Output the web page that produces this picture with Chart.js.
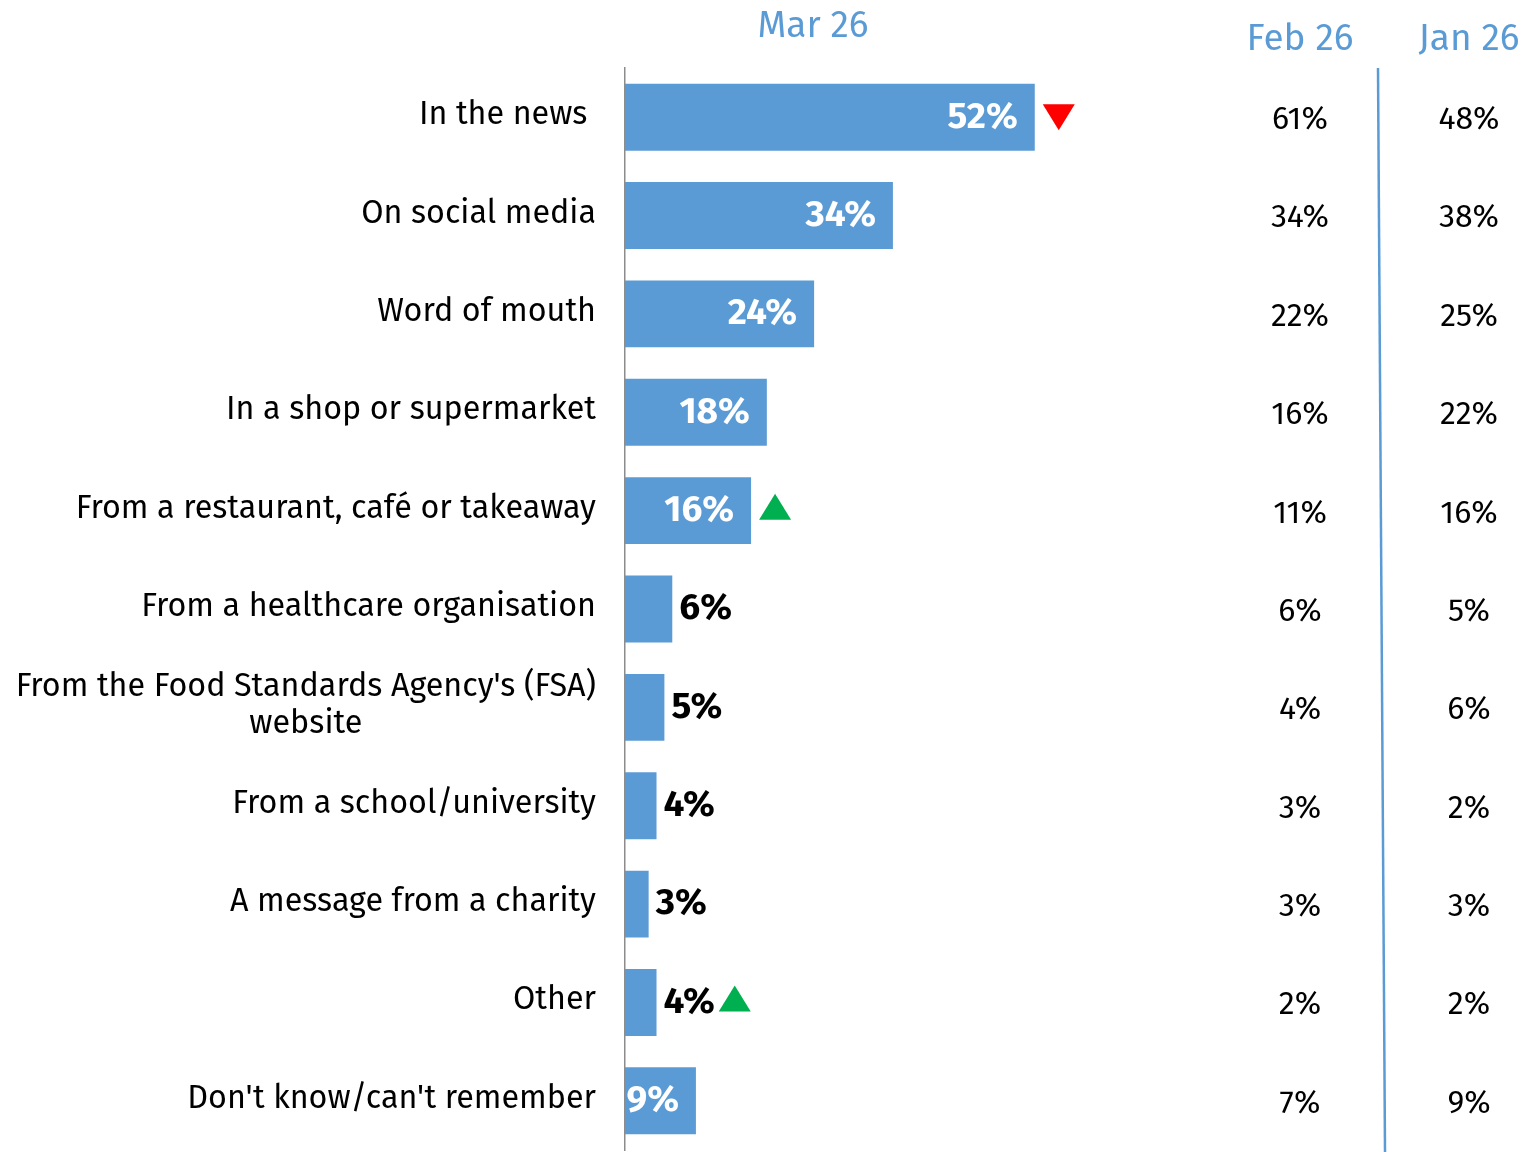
<!DOCTYPE html>
<html>
<head>
<meta charset="utf-8">
<script src="https://cdn.jsdelivr.net/npm/chart.js@4/dist/chart.umd.min.js"></script>
<style>
  html, body { margin: 0; padding: 0; background: #ffffff; }
  #wrap { width: 1524px; height: 1152px; position: relative; }
</style>
</head>
<body>
<div id="wrap"><canvas id="chart" width="1524" height="1152"></canvas></div>
<script>
// Where people heard about it – current wave with two earlier waves for comparison
const categories = [
  ['In the news '],
  ['On social media'],
  ['Word of mouth'],
  ['In a shop or supermarket'],
  ['From a restaurant, café or takeaway'],
  ['From a healthcare organisation'],
  ["From the Food Standards Agency's (FSA)", 'website'],
  ['From a school/university'],
  ['A message from a charity'],
  ['Other'],
  ["Don't know/can't remember"]
];
const mar26 = [52, 34, 24, 18, 16, 6, 5, 4, 3, 4, 9];
const feb26 = [61, 34, 22, 16, 11, 6, 4, 3, 3, 2, 7];
const jan26 = [48, 38, 25, 22, 16, 5, 6, 2, 3, 2, 9];
// significant change vs previous wave: 'down', 'up' or null
const changes = ['down', null, null, null, 'up', null, null, null, null, 'up', null];
const waveHeaders = ['Mar 26', 'Feb 26', 'Jan 26'];

const FONT = '"Fira Sans", "Open Sans", sans-serif';
const BLUE = '#5B9BD5';
const HEAD_BLUE = '#5B9BD5';

const overlay = {
  id: 'overlay',
  afterDatasetsDraw(chart) {
    const ctx = chart.ctx;
    const y = chart.scales.y;
    const area = chart.chartArea;
    ctx.save();

    // category labels, right-aligned; multi-line labels are centred on their block
    ctx.fillStyle = '#000000';
    ctx.font = '32.3px ' + FONT;
    ctx.textBaseline = 'middle';
    const labelRight = area.left - 29;
    categories.forEach((lines, i) => {
      const cy = y.getPixelForValue(i) - 2;
      if (lines.length === 1) {
        ctx.textAlign = 'right';
        ctx.fillText(lines[0], labelRight, cy);
      } else {
        const w = Math.max(...lines.map(l => ctx.measureText(l).width));
        const mid = labelRight - w / 2;
        const lh = 37;
        ctx.textAlign = 'center';
        lines.forEach((l, k) => {
          ctx.fillText(l, mid, cy + (k - (lines.length - 1) / 2) * lh);
        });
      }
    });

    // value labels on the bars
    ctx.font = 'bold 37px ' + FONT;
    const meta = chart.getDatasetMeta(0);
    mar26.forEach((v, i) => {
      const bar = meta.data[i];
      const cy = bar.y;
      const text = v + '%';
      let markX;
      if (v >= 9) {
        ctx.fillStyle = '#ffffff';
        ctx.textAlign = 'right';
        ctx.fillText(text, bar.x - 17, cy);
        markX = bar.x + 8;
      } else {
        ctx.fillStyle = '#000000';
        ctx.textAlign = 'left';
        ctx.fillText(text, bar.x + 7, cy);
        markX = bar.x + 7 + ctx.measureText(text).width + 4;
      }
      const c = changes[i];
      if (c) {
        const w = 32, h = 26;
        const ty = c === 'down' ? cy : cy - 4;
        ctx.beginPath();
        if (c === 'down') {
          ctx.fillStyle = '#FF0000';
          ctx.moveTo(markX, ty - h / 2);
          ctx.lineTo(markX + w, ty - h / 2);
          ctx.lineTo(markX + w / 2, ty + h / 2);
        } else {
          ctx.fillStyle = '#00B050';
          ctx.moveTo(markX, ty + h / 2);
          ctx.lineTo(markX + w, ty + h / 2);
          ctx.lineTo(markX + w / 2, ty - h / 2);
        }
        ctx.closePath();
        ctx.fill();
      }
    });

    // earlier waves as text columns
    const colFeb = 1300, colJan = 1469;
    ctx.font = '32px ' + FONT;
    ctx.fillStyle = '#000000';
    ctx.textAlign = 'center';
    feb26.forEach((v, i) => {
      const cy = y.getPixelForValue(i) + 3;
      ctx.fillText(v + '%', colFeb, cy);
      ctx.fillText(jan26[i] + '%', colJan, cy);
    });

    // column headers
    ctx.fillStyle = HEAD_BLUE;
    ctx.font = '37px ' + FONT;
    ctx.fillText(waveHeaders[0], 813, 27);
    ctx.fillText(waveHeaders[1], colFeb, 40);
    ctx.fillText(waveHeaders[2], colJan, 40);

    // divider between the two earlier waves
    ctx.strokeStyle = BLUE;
    ctx.lineWidth = 2.5;
    ctx.beginPath();
    ctx.moveTo(1378, area.top);
    ctx.lineTo(1385, chart.height);
    ctx.stroke();

    ctx.restore();
  }
};

new Chart(document.getElementById('chart'), {
  type: 'bar',
  data: {
    labels: categories,
    datasets: [{
      data: mar26,
      backgroundColor: BLUE,
      borderWidth: 0,
      categoryPercentage: 1,
      barPercentage: 0.68
    }]
  },
  options: {
    indexAxis: 'y',
    responsive: false,
    animation: false,
    events: [],
    layout: { padding: { top: 68, bottom: 2, left: 0, right: 111 } },
    plugins: { legend: { display: false }, tooltip: { enabled: false } },
    scales: {
      x: { min: 0, max: 100, display: false },
      y: {
        ticks: { display: false },
        grid: { display: false, drawTicks: false },
        border: { display: true, color: '#8c8c8c', width: 1.5 },
        afterFit(scale) { scale.width = 625; }
      }
    }
  },
  plugins: [overlay]
});
</script>
</body>
</html>
